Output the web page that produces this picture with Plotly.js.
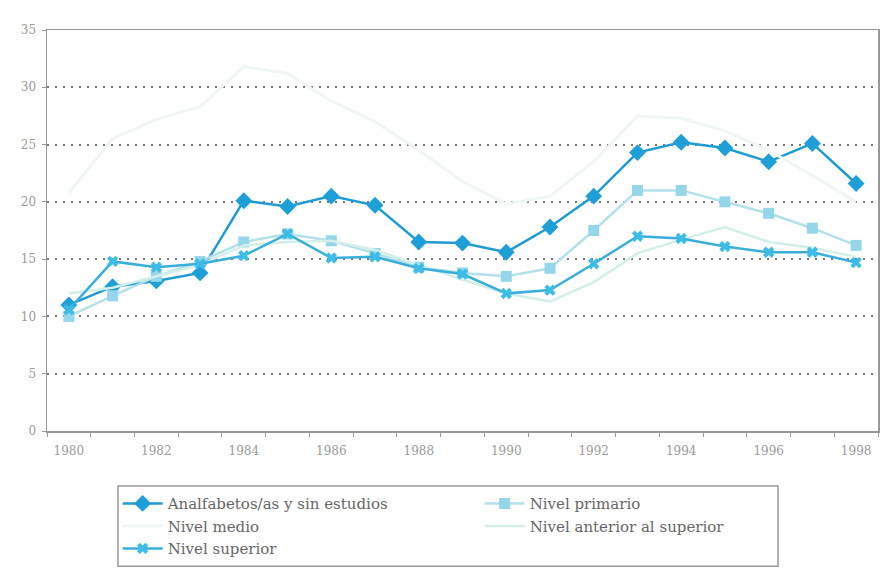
<!DOCTYPE html>
<html>
<head>
<meta charset="utf-8">
<script src="https://cdn.plot.ly/plotly-3.0.1.min.js"></script>
<style>html,body{margin:0;padding:0;background:#fff;}#chart{width:883px;height:574px;}</style>
</head>
<body>
<div id="chart"></div>
<script>
const years = ["1980","1981","1982","1983","1984","1985","1986","1987","1988","1989","1990","1991","1992","1993","1994","1995","1996","1997","1998"];
const tickLabels = ["1980","","1982","","1984","","1986","","1988","","1990","","1992","","1994","","1996","","1998"];
const analfabetos = [11.0,12.6,13.1,13.8,20.1,19.6,20.5,19.7,16.5,16.4,15.6,17.8,20.5,24.3,25.2,24.7,23.5,25.1,21.6];
const primario   = [10.0,11.8,13.5,14.8,16.5,17.2,16.6,15.5,14.3,13.8,13.5,14.2,17.5,21.0,21.0,20.0,19.0,17.7,16.2];
const medio      = [20.8,25.5,27.2,28.3,31.8,31.2,28.8,27.0,24.5,21.8,19.8,20.5,23.5,27.5,27.3,26.2,24.5,22.3,20.0];
const anterior   = [12.0,12.5,13.5,14.5,16.2,16.5,16.6,15.8,14.5,13.2,12.0,11.3,13.0,15.5,16.7,17.8,16.5,16.0,15.2];
const superior   = [10.6,14.8,14.3,14.6,15.3,17.2,15.1,15.2,14.2,13.7,12.0,12.3,14.6,17.0,16.8,16.1,15.6,15.6,14.7];
const seriesNames = ["Analfabetos/as y sin estudios","Nivel primario","Nivel medio","Nivel anterior al superior","Nivel superior"];

const tickFontFamily = "DejaVu Serif";
const legendFontFamily = "DejaVu Serif";

const traces = [
  {x: years, y: analfabetos, name: seriesNames[0], mode: "lines+markers",
   line: {color: "#1f9bd3", width: 2.5}, marker: {symbol: "diamond", size: 13, color: "#1f9fd8"}},
  {x: years, y: primario, name: seriesNames[1], mode: "lines+markers",
   line: {color: "#b3e0ea", width: 2.5}, marker: {symbol: "square", size: 11, color: "#95d6ea"}},
  {x: years, y: medio, name: seriesNames[2], mode: "lines",
   line: {color: "#f0f6f5", width: 3}},
  {x: years, y: anterior, name: seriesNames[3], mode: "lines",
   line: {color: "#d2efe9", width: 2.5}},
  {x: years, y: superior, name: seriesNames[4], mode: "lines+markers",
   line: {color: "#3aaedb", width: 2.5}, marker: {symbol: "x", size: 10, color: "#3cbce6"}}
];

const layout = {
  width: 883, height: 574,
  margin: {l: 47, r: 5, t: 30, b: 143, autoexpand: false},
  paper_bgcolor: "#ffffff", plot_bgcolor: "#ffffff",
  font: {family: tickFontFamily, color: "#999999", size: 12},
  showlegend: true,
  xaxis: {
    type: "category", range: [-0.5, 18.5],
    tickmode: "array", tickvals: years, ticktext: tickLabels,
    tickson: "boundaries", ticks: "outside", ticklen: 4, tickcolor: "#999",
    ticklabelstandoff: 8,
    showline: true, linecolor: "#999", linewidth: 1.5, mirror: true,
    showgrid: false, zeroline: false,
    tickfont: {family: tickFontFamily, size: 12, color: "#9a9a9a"}
  },
  yaxis: {
    range: [0, 35], tickvals: [0,5,10,15,20,25,30,35],
    ticks: "outside", ticklen: 4, tickcolor: "#999",
    ticklabelstandoff: 3,
    showline: true, linecolor: "#999", linewidth: 1.5, mirror: true,
    showgrid: true, gridcolor: "#777", griddash: "2px,6px", gridwidth: 2,
    zeroline: false,
    tickfont: {family: tickFontFamily, size: 12, color: "#9a9a9a"}
  },
  legend: {
    orientation: "h", x: 0.085, y: -0.14, xanchor: "left", yanchor: "top",
    entrywidth: 307, entrywidthmode: "pixels",
    borderwidth: 0, bgcolor: "rgba(0,0,0,0)",
    font: {family: legendFontFamily, size: 15, color: "#666"},
    tracegroupgap: 0, itemwidth: 40
  },
  shapes: [
    {type: "rect", xref: "paper", yref: "paper", x0: 0.0854, x1: 0.8797, y0: -0.137, y1: -0.337,
     line: {color: "#999", width: 1.5}, fillcolor: "rgba(0,0,0,0)", layer: "below"}
  ]
};

Plotly.newPlot("chart", traces, layout, {displayModeBar: false, staticPlot: true});
</script>
</body>
</html>
